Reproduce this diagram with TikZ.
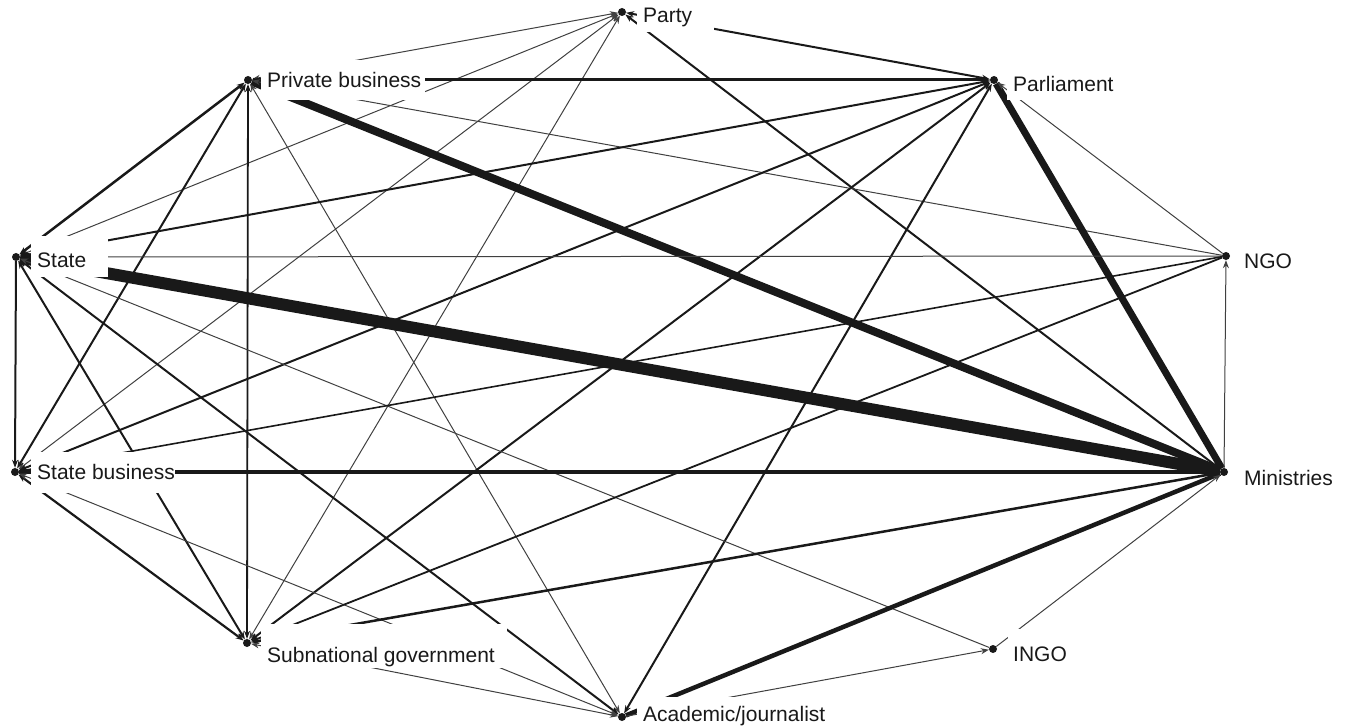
\documentclass[tikz,border=0pt]{standalone}
\usepackage{fontspec}
\setmainfont{Liberation Sans}
\usetikzlibrary{arrows.meta}
\begin{document}
\begin{tikzpicture}[x=1pt,y=-1pt,
  dot/.style={circle,fill=black!90,inner sep=0pt,minimum size=8pt},
  lbl/.style={anchor=base west,inner sep=0pt,font=\fontsize{21}{25}\selectfont,text=black!90},
  mask/.style={fill=white,draw=none},
  ah/.tip={Stealth[length=8pt,width=6pt]},
  e/.style={draw=black!90,line cap=butt},
  w1/.style={e,line width=1pt,draw=black!75},
  w2/.style={e,line width=2pt},
  bi/.style={arrows={ah-ah}},
  fw/.style={arrows={-ah}},
  bw/.style={arrows={ah-}}
]
\useasboundingbox (0,0) rectangle (1346,727);
% nodes (dots)
\node[dot] (Pa) at (622,12) {};
\node[dot] (PB) at (248,80) {};
\node[dot] (Pl) at (994,80) {};
\node[dot] (S)  at (16,257) {};
\node[dot] (N)  at (1226,256) {};
\node[dot] (SB) at (15,472) {};
\node[dot] (M)  at (1224,472) {};
\node[dot] (SG) at (247,643) {};
\node[dot] (I)  at (993,649) {};
\node[dot] (A)  at (622,717) {};
% edges
\draw[w1,bi] (Pa) -- (PB);
\draw[w1,bi] (Pa) -- (S);
\draw[w1,bi] (Pa) -- (SB);
\draw[w1,bi] (Pa) -- (SG);
\draw[w2,bi] (Pa) -- (Pl);
\draw[w2,bi] (Pa) -- (M);
\draw[e,line width=3pt,bi] (PB) -- (Pl);
\draw[e,line width=8pt] (PB) -- (M);
\draw[e,line width=2.5pt,bi] (PB) -- (S);
\draw[w2,bi] (PB) -- (SB);
\draw[e,line width=1.8pt,bi] (PB) -- (SG);
\draw[w1,bi] (PB) -- (A);
\draw[w1,bw] (PB) -- (N);
\draw[e,line width=7pt] (Pl) -- (M);
\draw[w1,bw] (Pl) -- (N);
\draw[w2,bi] (S) -- (Pl);
\draw[w2,bi] (SB) -- (Pl);
\draw[w2,bi] (SG) -- (Pl);
\draw[w2,bi] (A) -- (Pl);
\draw[w1,bw] (S) -- (N);
\draw[e,line width=12pt] (S) -- (M);
\draw[w2,fw] (S) -- (SB);
\draw[w2,bi] (S) -- (SG);
\draw[w2,bi] (S) -- (A);
\draw[w1,bw] (S) -- (I);
\draw[e,line width=1.6pt,bw] (SB) -- (N);
\draw[e,line width=3.5pt] (SB) -- (M);
\draw[e,line width=2.2pt,bi] (SB) -- (SG);
\draw[w1,bi] (SB) -- (A);
\draw[e,line width=1.8pt,bw] (SG) -- (N);
\draw[e,line width=2.5pt,bi] (SG) -- (M);
\draw[w1,bi] (SG) -- (A);
\draw[e,line width=4.5pt] (A) -- (M);
\draw[w1,fw] (A) -- (I);
\draw[w1,fw] (I) -- (M);
\draw[w1,fw] (M) -- (N);
% label masks (gaps in the lines around labels)
\fill[mask] (637,-8) rectangle (714,32);
\fill[mask] (261,60) rectangle (425,100);
\fill[mask] (1007,60) rectangle (1124,100);
\fill[mask] (31,236) rectangle (108,277);
\fill[mask] (1238,235) rectangle (1303,275);
\fill[mask] (31,452) rectangle (175,493);
\fill[mask] (1238,452) rectangle (1340,492);
\fill[mask] (261,624) rectangle (507,668);
\fill[mask] (1008,629) rectangle (1070,669);
\fill[mask] (637,697) rectangle (835,737);
% labels
\node[lbl] (PaL) at (643,23) {Party};
\node[lbl] (PBL) at (267,88) {Private business};
\node[lbl] (PlL) at (1013,92) {Parliament};
\node[lbl] (SL)  at (37,268) {State};
\node[lbl] (NL)  at (1244,269) {NGO};
\node[lbl] (SBL) at (37,479) {State business};
\node[lbl] (ML)  at (1244,485) {Ministries};
\node[lbl] (SGL) at (267,662) {Subnational government};
\node[lbl] (IL)  at (1013,661) {INGO};
\node[lbl] (AL)  at (643,721) {Academic/journalist};
\end{tikzpicture}
\end{document}
